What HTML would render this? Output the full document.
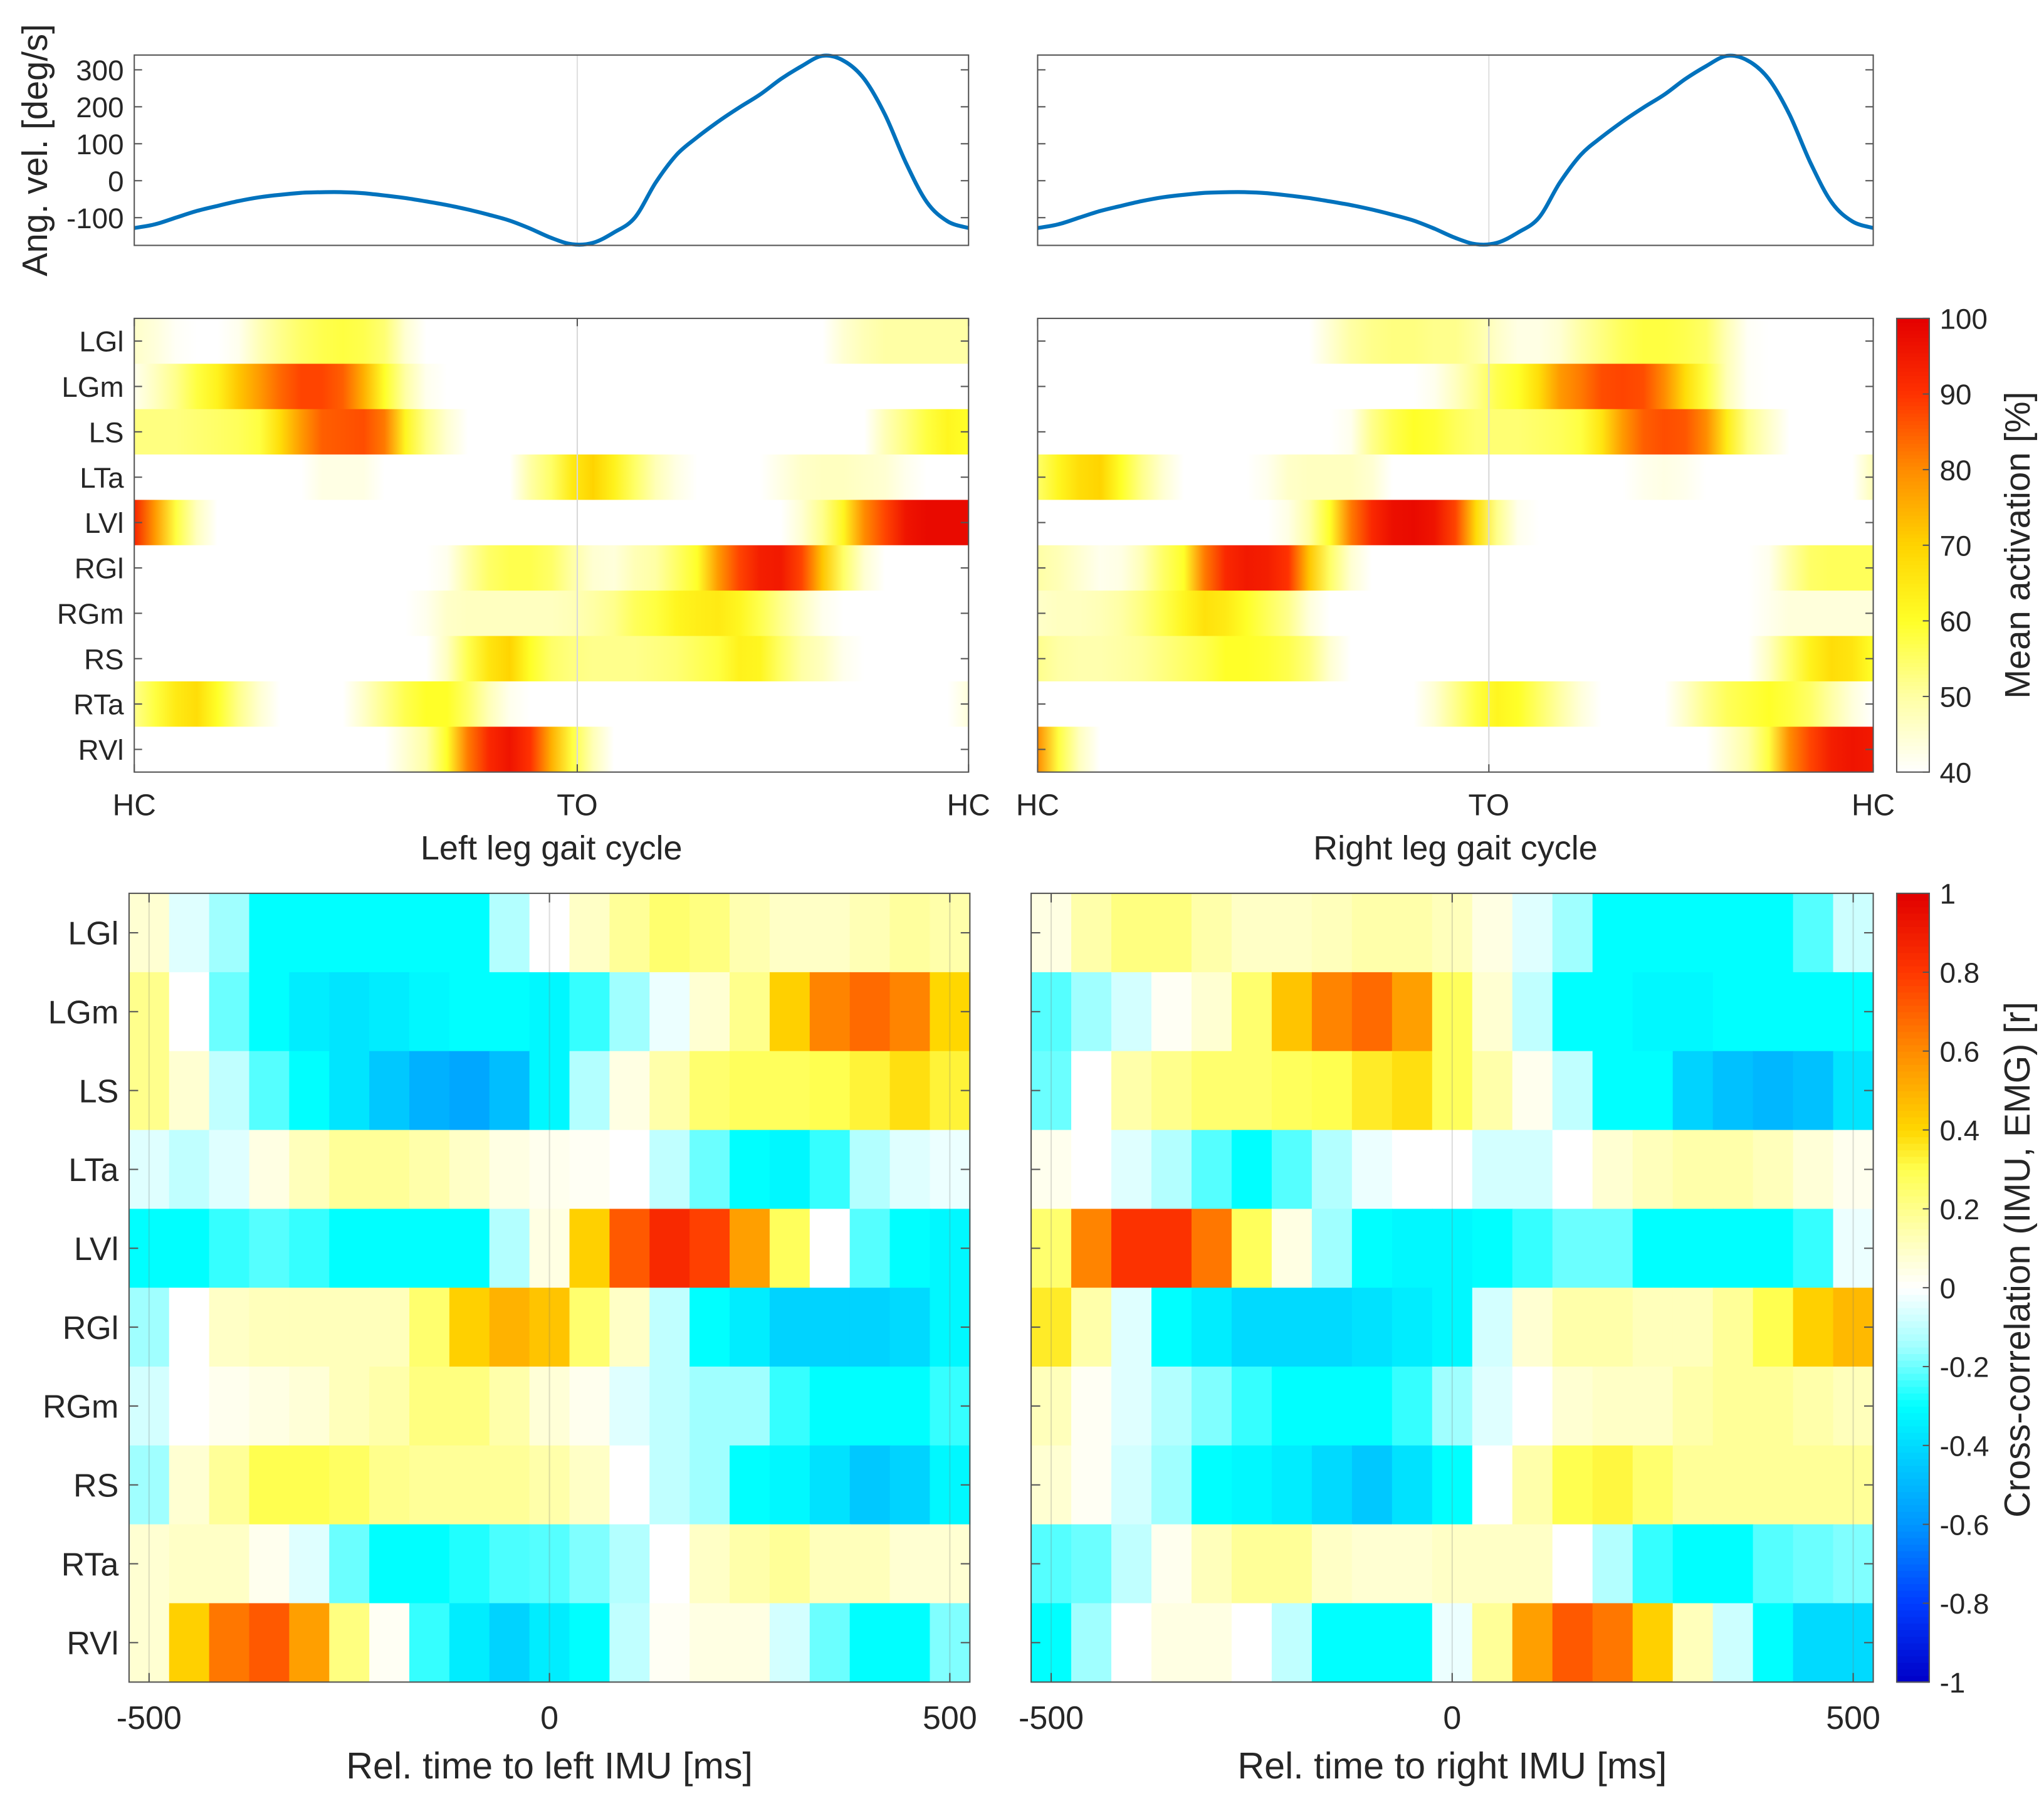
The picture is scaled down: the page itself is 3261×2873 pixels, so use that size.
<!DOCTYPE html>
<html><head><meta charset="utf-8"><style>
html,body{margin:0;padding:0;background:#fff}
svg{display:block}
text{font-family:"Liberation Sans",sans-serif;fill:#262626}
</style></head><body>
<svg id="fig" width="3261" height="2873" viewBox="0 0 1568 1381" xmlns="http://www.w3.org/2000/svg"><defs id="defs"></defs></svg>
<script>
// ---------- data ----------
const muscles = ["LGl","LGm","LS","LTa","LVl","RGl","RGm","RS","RTa","RVl"];
const gaitPct = [0,2.5,5,7.5,10,12.5,15,17.5,20,22.5,25,27.5,30,32.5,35,37.5,40,42.5,45,47.5,50,52.5,55,57.5,60,62.5,65,67.5,70,72.5,75,77.5,80,82.5,85,87.5,90,92.5,95,97.5,100];
const angVelLeft = [-128,-118,-100,-82,-68,-55,-45,-38,-33,-31,-31,-34,-40,-47,-56,-66,-78,-92,-108,-130,-155,-172,-168,-140,-100,-5,70,118,160,198,233,275,310,338,325,275,178,48,-58,-110,-128];
const angVelRight = [-128,-118,-100,-82,-68,-55,-45,-38,-33,-31,-31,-34,-40,-47,-56,-66,-78,-92,-108,-130,-155,-172,-168,-140,-100,-5,70,118,160,198,233,275,310,338,325,275,178,48,-58,-110,-128];
const angTicks = [300,200,100,0,-100];
const actTicks = [100,90,80,70,60,50,40];
const lagMs = [-500,-450,-400,-350,-300,-250,-200,-150,-100,-50,0,50,100,150,200,250,300,350,400,450,500];
const lagTicks = [-500,0,500];
const corrTicks = [1,0.8,0.6,0.4,0.2,0,-0.2,-0.4,-0.6,-0.8,-1];
const corrTickLabels = ["1","0.8","0.6","0.4","0.2","0","-0.2","-0.4","-0.6","-0.8","-1"];

const actLeft_LGl = [46,44,41,40,40,42,48,52,55,57,58,57,54,45,40,40,40,40,40,40,40,40,40,40,40,40,40,40,40,40,40,40,40,40,45,48,50,50,50,50,50];
const actLeft_LGm = [42,47,52,58,63,72,78,84,88,88,85,75,60,50,42,40,40,40,40,40,40,40,40,40,40,40,40,40,40,40,40,40,40,40,40,40,40,40,40,40,40];
const actLeft_LS  = [53,53,53,54,55,56,58,68,78,85,86,87,82,62,52,45,40,40,40,40,40,40,40,40,40,40,40,40,40,40,40,40,40,40,40,40,48,53,58,62,60];
const actLeft_LTa = [40,40,40,40,40,40,40,40,40,43,43,43,40,40,40,40,40,40,40,50,55,65,70,63,55,48,43,40,40,40,40,43,46,47,47,46,45,42,40,40,40];
const actLeft_LVl = [93,78,58,47,40,40,40,40,40,40,40,40,40,40,40,40,40,40,40,40,40,40,40,40,40,40,40,40,40,40,40,40,45,52,62,80,88,96,98,98,98];
const actLeft_RGl = [40,40,40,40,40,40,40,40,40,40,40,40,40,40,40,42,50,55,57,57,55,50,45,44,48,50,55,60,78,88,94,95,88,72,55,45,40,40,40,40,40];
const actLeft_RGm = [40,40,40,40,40,40,40,40,40,40,40,40,40,40,42,46,47,47,47,47,47,48,50,52,56,58,62,64,65,62,57,52,47,42,40,40,40,40,40,40,40];
const actLeft_RS  = [40,40,40,40,40,40,40,40,40,40,40,40,40,40,40,47,57,66,70,60,55,53,52,52,52,53,54,56,58,63,62,55,50,47,42,40,40,40,40,40,40];
const actLeft_RTa = [52,58,65,68,60,52,45,40,40,40,40,46,52,57,60,60,55,48,42,40,40,40,40,40,40,40,40,40,40,40,40,40,40,40,40,40,40,40,40,40,44];
const actLeft_RVl = [40,40,40,40,40,40,40,40,40,40,40,40,40,45,50,60,82,92,96,90,75,58,48,40,40,40,40,40,40,40,40,40,40,40,40,40,40,40,40,40,40];

const actRight_LGl = [40,40,40,40,40,40,40,40,40,40,40,40,40,40,45,50,52,53,53,52,52,50,46,43,43,45,50,53,56,58,58,57,55,48,41,40,40,40,40,40,40];
const actRight_LGm = [40,40,40,40,40,40,40,40,40,40,40,40,40,40,40,40,40,40,40,42,47,52,57,60,68,78,82,87,88,87,80,68,58,48,41,40,40,40,40,40,40];
const actRight_LS  = [40,40,40,40,40,40,40,40,40,40,40,40,40,40,40,42,52,57,60,59,56,54,54,54,55,56,58,66,78,85,87,86,80,64,52,46,40,40,40,40,40];
const actRight_LTa = [55,62,68,70,60,52,45,40,40,40,40,42,46,47,47,47,45,40,40,40,40,40,40,40,40,40,40,40,40,42,43,42,40,40,40,40,40,40,40,40,48];
const actRight_LVl = [40,40,40,40,40,40,40,40,40,40,40,40,43,50,60,82,92,97,98,96,88,68,52,42,40,40,40,40,40,40,40,40,40,40,40,40,40,40,40,40,40];
const actRight_RGl = [50,48,45,42,43,48,55,60,82,92,95,94,90,72,55,45,40,40,40,40,40,40,40,40,40,40,40,40,40,40,40,40,40,40,40,42,50,55,56,56,56];
const actRight_RGm = [46,47,47,48,50,53,57,62,67,65,60,56,52,44,40,40,40,40,40,40,40,40,40,40,40,40,40,40,40,40,40,40,40,40,40,42,44,44,44,44,44];
const actRight_RS  = [52,50,49,49,50,51,53,55,57,60,60,59,57,53,45,40,40,40,40,40,40,40,40,40,40,40,40,40,40,40,40,40,40,40,40,47,55,63,68,66,60];
const actRight_RTa = [40,40,40,40,40,40,40,40,40,40,40,40,40,40,40,40,40,40,40,45,52,58,62,60,55,50,44,40,40,40,40,46,52,56,58,60,58,55,50,44,40];
const actRight_RVl = [80,58,47,40,40,40,40,40,40,40,40,40,40,40,40,40,40,40,40,40,40,40,40,40,40,40,40,40,40,40,40,40,40,45,50,58,80,88,94,96,95];

const corrLeft_LGl = [0.08,-0.05,-0.15,-0.3,-0.3,-0.3,-0.3,-0.3,-0.3,-0.12,0,0.1,0.18,0.25,0.22,0.14,0.1,0.1,0.13,0.17,0.15];
const corrLeft_LGm = [0.2,0,-0.2,-0.3,-0.35,-0.37,-0.35,-0.32,-0.3,-0.3,-0.32,-0.25,-0.15,-0.03,0.08,0.2,0.42,0.62,0.68,0.62,0.4];
const corrLeft_LS  = [0.2,0.08,-0.1,-0.22,-0.3,-0.37,-0.45,-0.52,-0.55,-0.48,-0.32,-0.12,0.05,0.15,0.25,0.28,0.28,0.3,0.33,0.38,0.33];
const corrLeft_LTa = [-0.05,-0.1,-0.05,0.05,0.12,0.18,0.18,0.15,0.1,0.05,0.03,0.02,0,-0.1,-0.2,-0.3,-0.32,-0.25,-0.12,-0.05,-0.03];
const corrLeft_LVl = [-0.3,-0.3,-0.25,-0.22,-0.25,-0.3,-0.3,-0.3,-0.3,-0.12,0.05,0.42,0.72,0.85,0.78,0.55,0.28,0,-0.22,-0.3,-0.32];
const corrLeft_RGl = [-0.15,0,0.1,0.12,0.12,0.12,0.12,0.25,0.42,0.5,0.45,0.25,0.1,-0.1,-0.3,-0.35,-0.42,-0.42,-0.42,-0.4,-0.32];
const corrLeft_RGm = [-0.07,0,0.03,0.05,0.07,0.12,0.15,0.22,0.22,0.15,0.07,0.03,-0.05,-0.1,-0.15,-0.15,-0.25,-0.3,-0.3,-0.3,-0.25];
const corrLeft_RS  = [-0.15,0.08,0.18,0.3,0.3,0.27,0.2,0.18,0.18,0.18,0.15,0.1,0,-0.1,-0.15,-0.3,-0.32,-0.38,-0.45,-0.42,-0.32];
const corrLeft_RTa = [0.08,0.1,0.1,0.03,-0.05,-0.2,-0.3,-0.3,-0.27,-0.23,-0.22,-0.18,-0.12,0,0.1,0.15,0.18,0.12,0.12,0.08,0.08];
const corrLeft_RVl = [0.08,0.42,0.65,0.72,0.55,0.22,0.02,-0.25,-0.35,-0.42,-0.35,-0.3,-0.1,0.02,0.05,0.05,-0.07,-0.2,-0.3,-0.3,-0.18];

const corrRight_LGl = [0.05,0.15,0.22,0.22,0.15,0.1,0.1,0.12,0.15,0.15,0.12,0.05,-0.05,-0.15,-0.3,-0.3,-0.3,-0.3,-0.3,-0.22,-0.08];
const corrRight_LGm = [-0.22,-0.15,-0.07,0.02,0.08,0.25,0.45,0.62,0.68,0.55,0.28,0.08,-0.1,-0.3,-0.3,-0.32,-0.32,-0.3,-0.3,-0.3,-0.3];
const corrRight_LS  = [-0.2,0,0.15,0.2,0.25,0.25,0.28,0.3,0.35,0.38,0.28,0.15,0.03,-0.1,-0.3,-0.3,-0.42,-0.47,-0.5,-0.47,-0.37];
const corrRight_LTa = [0.03,0,-0.05,-0.12,-0.22,-0.3,-0.22,-0.12,-0.03,0,0,-0.07,-0.07,0,0.08,0.12,0.15,0.15,0.12,0.07,0.03];
const corrRight_LVl = [0.25,0.62,0.82,0.82,0.65,0.28,0.05,-0.15,-0.3,-0.32,-0.32,-0.3,-0.25,-0.2,-0.2,-0.3,-0.3,-0.3,-0.3,-0.25,-0.03];
const corrRight_RGl = [0.35,0.15,-0.05,-0.3,-0.35,-0.4,-0.4,-0.4,-0.38,-0.35,-0.32,-0.07,0.08,0.15,0.15,0.12,0.12,0.18,0.3,0.42,0.48];
const corrRight_RGm = [0.12,0.02,-0.05,-0.12,-0.18,-0.25,-0.3,-0.3,-0.3,-0.25,-0.15,-0.05,0,0.08,0.1,0.1,0.15,0.18,0.18,0.15,0.12];
const corrRight_RS  = [0.08,0.02,-0.07,-0.15,-0.3,-0.32,-0.35,-0.4,-0.45,-0.38,-0.3,0,0.15,0.3,0.32,0.25,0.18,0.18,0.18,0.18,0.18];
const corrRight_RTa = [-0.22,-0.2,-0.1,0.03,0.12,0.18,0.18,0.1,0.08,0.08,0.1,0.1,0.1,0,-0.12,-0.25,-0.3,-0.3,-0.22,-0.2,-0.18];
const corrRight_RVl = [-0.3,-0.15,0,0.05,0.05,0,-0.1,-0.3,-0.3,-0.3,-0.03,0.18,0.55,0.72,0.65,0.42,0.12,-0.08,-0.3,-0.4,-0.4];

const actLeft = [actLeft_LGl,actLeft_LGm,actLeft_LS,actLeft_LTa,actLeft_LVl,actLeft_RGl,actLeft_RGm,actLeft_RS,actLeft_RTa,actLeft_RVl];
const actRight = [actRight_LGl,actRight_LGm,actRight_LS,actRight_LTa,actRight_LVl,actRight_RGl,actRight_RGm,actRight_RS,actRight_RTa,actRight_RVl];
const corrLeft = [corrLeft_LGl,corrLeft_LGm,corrLeft_LS,corrLeft_LTa,corrLeft_LVl,corrLeft_RGl,corrLeft_RGm,corrLeft_RS,corrLeft_RTa,corrLeft_RVl];
const corrRight = [corrRight_LGl,corrRight_LGm,corrRight_LS,corrRight_LTa,corrRight_LVl,corrRight_RGl,corrRight_RGm,corrRight_RS,corrRight_RTa,corrRight_RVl];

// ---------- helpers ----------
const NS="http://www.w3.org/2000/svg";
const svg=document.getElementById('fig');
const defs=document.getElementById('defs');
function mk(tag,attrs,parent){const e=document.createElementNS(NS,tag);for(const k in attrs)e.setAttribute(k,attrs[k]);(parent||svg).appendChild(e);return e;}
function lerpStops(stops,v){
  if(v<=stops[0][0])return stops[0][1];
  for(let i=1;i<stops.length;i++){if(v<=stops[i][0]){const a=stops[i-1],b=stops[i];const t=(v-a[0])/(b[0]-a[0]);
    return a[1].map((c,j)=>Math.round(c+(b[1][j]-c)*t));}}
  return stops[stops.length-1][1];
}
const actStops=[[40,[255,255,255]],[50,[255,255,165]],[60,[255,255,40]],[70,[255,212,0]],[80,[255,140,0]],[90,[255,50,0]],[100,[228,0,0]]];
const corrStops=[[-1,[0,0,200]],[-0.8,[0,60,255]],[-0.6,[0,150,255]],[-0.45,[0,200,255]],[-0.3,[0,255,255]],[-0.15,[160,255,255]],[0,[255,255,255]],[0.15,[255,255,170]],[0.3,[255,255,80]],[0.4,[255,215,0]],[0.6,[255,140,0]],[0.8,[255,55,0]],[1,[225,0,0]]];
const rgb=c=>`rgb(${c[0]},${c[1]},${c[2]})`;
const AX='#555';
function smoothPath(pts){
  let d='M'+pts[0][0].toFixed(1)+','+pts[0][1].toFixed(1);
  for(let i=0;i<pts.length-1;i++){
    const p0=pts[Math.max(0,i-1)],p1=pts[i],p2=pts[i+1],p3=pts[Math.min(pts.length-1,i+2)];
    const c1=[p1[0]+(p2[0]-p0[0])/6,p1[1]+(p2[1]-p0[1])/6];
    const c2=[p2[0]-(p3[0]-p1[0])/6,p2[1]-(p3[1]-p1[1])/6];
    d+=`C${c1[0].toFixed(1)},${c1[1].toFixed(1)} ${c2[0].toFixed(1)},${c2[1].toFixed(1)} ${p2[0].toFixed(1)},${p2[1].toFixed(1)}`;
  }
  return d;
}

// ---------- layout ----------
const topY0=42, topY1=188;
const midY0=244, midY1=592;
const botY0=685, botY1=1290;
const panels=[
  {side:'left', x0:103,x1:743, bx0:99,bx1:744, to:53.1, ang:angVelLeft, act:actLeft, corr:corrLeft},
  {side:'right',x0:796,x1:1437,bx0:791,bx1:1437,to:54.0, ang:angVelRight, act:actRight, corr:corrRight}
];
const angMin=-175, angMax=340;

panels.forEach(p=>{
  const gx=v=>p.x0+(p.x1-p.x0)*v/100;
  const ay=v=>topY1-(v-angMin)/(angMax-angMin)*(topY1-topY0);
  // ---- angular velocity ----
  const g1=mk('g',{});  
  mk('line',{x1:gx(p.to),x2:gx(p.to),y1:topY0,y2:topY1,stroke:'#e0e0e0','stroke-width':1},g1);
  const pts=gaitPct.map((g,i)=>[gx(g),ay(p.ang[i])]);
  const ln=mk('path',{d:smoothPath(pts),fill:'none',stroke:'#0072bd','stroke-width':3,'stroke-linejoin':'round'},g1);
   
  mk('rect',{x:p.x0,y:topY0,width:p.x1-p.x0,height:topY1-topY0,fill:'none',stroke:AX,'stroke-width':1},g1);
  angTicks.forEach(t=>{const y=ay(t);
    mk('line',{x1:p.x0,x2:p.x0+6,y1:y,y2:y,stroke:AX},g1);mk('line',{x1:p.x1,x2:p.x1-6,y1:y,y2:y,stroke:AX},g1);
    if(p.side==='left'){const tx=mk('text',{x:p.x0-8,y:y+8,'text-anchor':'end','font-size':22},g1);tx.textContent=t;
      }
  });
  // ---- activation heatmap (gradient rows through data points) ----
  const g2=mk('g',{});  
  const rh=(midY1-midY0)/muscles.length;
  p.act.forEach((row,r)=>{
    const id=`grad-${p.side}-${r}`;
    const lg=mk('linearGradient',{id:id,x1:gx(0),x2:gx(100),y1:0,y2:0,gradientUnits:'userSpaceOnUse'},defs);
    row.forEach((v,i)=>{mk('stop',{offset:(gaitPct[i]/100).toFixed(4),'stop-color':rgb(lerpStops(actStops,v))},lg);});
    const c=mk('rect',{x:p.x0,y:midY0+r*rh,width:p.x1-p.x0,height:rh+0.4,fill:`url(#${id})`},g2);
    
    
  });
  mk('line',{x1:gx(p.to),x2:gx(p.to),y1:midY0,y2:midY1,stroke:'#d8d8d8','stroke-width':1},g2);
  mk('rect',{x:p.x0,y:midY0,width:p.x1-p.x0,height:midY1-midY0,fill:'none',stroke:AX},g2);
  muscles.forEach((m,r)=>{const y=midY0+(r+0.5)*rh;
    mk('line',{x1:p.x0,x2:p.x0+6,y1:y,y2:y,stroke:AX},g2);mk('line',{x1:p.x1,x2:p.x1-6,y1:y,y2:y,stroke:AX},g2);
    if(p.side==='left'){const t=mk('text',{x:p.x0-8,y:y+8,'text-anchor':'end','font-size':22},g2);t.textContent=m;
      }
  });
  [[0,'HC'],[p.to,'TO'],[100,'HC']].forEach(([v,l])=>{const x=gx(v);
    mk('line',{x1:x,x2:x,y1:midY1,y2:midY1-6,stroke:AX},g2);mk('line',{x1:x,x2:x,y1:midY0,y2:midY0+6,stroke:AX},g2);
    const t=mk('text',{x:x,y:625,'text-anchor':'middle','font-size':23},g2);t.textContent=l;
    });
  const gt=mk('text',{x:(p.x0+p.x1)/2,y:659,'text-anchor':'middle','font-size':26},g2);
  gt.textContent=p.side==='left'?'Left leg gait cycle':'Right leg gait cycle';
  
  // ---- correlation heatmap ----
  const g3=mk('g',{});  
  const lx=v=>p.bx0+(p.bx1-p.bx0)*(v+525)/1050;
  const bh=(botY1-botY0)/muscles.length;
  p.corr.forEach((row,r)=>{
    row.forEach((v,i)=>{
      const c=mk('rect',{x:lx(lagMs[i]-25),y:botY0+r*bh,width:lx(lagMs[i]+25)-lx(lagMs[i]-25)+0.5,height:bh+0.4,fill:rgb(lerpStops(corrStops,v))},g3);
      
      
    });
  });
  lagTicks.forEach(t=>{const x=lx(t);
    mk('line',{x1:x,x2:x,y1:botY0,y2:botY1,stroke:'rgba(120,120,120,0.25)','stroke-width':1},g3);
    mk('line',{x1:x,x2:x,y1:botY1,y2:botY1-7,stroke:AX},g3);mk('line',{x1:x,x2:x,y1:botY0,y2:botY0+7,stroke:AX},g3);
    const tx=mk('text',{x:x,y:1326,'text-anchor':'middle','font-size':25},g3);tx.textContent=t;
    });
  mk('rect',{x:p.bx0,y:botY0,width:p.bx1-p.bx0,height:botY1-botY0,fill:'none',stroke:AX},g3);
  muscles.forEach((m,r)=>{const y=botY0+(r+0.5)*bh;
    mk('line',{x1:p.bx0,x2:p.bx0+7,y1:y,y2:y,stroke:AX},g3);mk('line',{x1:p.bx1,x2:p.bx1-7,y1:y,y2:y,stroke:AX},g3);
    if(p.side==='left'){const t=mk('text',{x:p.bx0-8,y:y+9,'text-anchor':'end','font-size':25},g3);t.textContent=m;
      }
  });
  const bt=mk('text',{x:(p.bx0+p.bx1)/2,y:1364,'text-anchor':'middle','font-size':28.5},g3);
  bt.textContent=p.side==='left'?'Rel. time to left IMU [ms]':'Rel. time to right IMU [ms]';
  
});

// y-axis title for angular velocity
const yt=mk('text',{x:0,y:0,'text-anchor':'middle','font-size':27,transform:'translate(36,115) rotate(-90)'});
yt.textContent='Ang. vel. [deg/s]';



// ---------- colorbars ----------
function colorbar(y0,y1,vmin,vmax,stops,ticks,labels,title,name,tsize,tcy){
  const g=mk('g',{});
  const x0=1455,x1=1480,N=120;
  for(let i=0;i<N;i++){const v=vmin+(vmax-vmin)*(i+0.5)/N;const ya=y1-(y1-y0)*(i+1)/N;
    mk('rect',{x:x0,y:ya,width:x1-x0,height:(y1-y0)/N+0.5,fill:rgb(lerpStops(stops,v))},g);}
  mk('rect',{x:x0,y:y0,width:x1-x0,height:y1-y0,fill:'none',stroke:AX},g);
  ticks.forEach((t,i)=>{const y=y1-(t-vmin)/(vmax-vmin)*(y1-y0);
    mk('line',{x1:x1,x2:x1-5,y1:y,y2:y,stroke:AX},g);
    const tx=mk('text',{x:x1+8,y:y+8,'font-size':22},g);tx.textContent=labels[i];
    });
  const tt=mk('text',{x:0,y:0,'text-anchor':'middle','font-size':tsize,transform:`translate(1557,${tcy}) rotate(-90)`},g);
  tt.textContent=title;
  
}
colorbar(midY0,midY1,40,100,actStops,actTicks,actTicks.map(String),'Mean activation [%]','activation-colorbar',27,418);
colorbar(botY0,botY1,-1,1,corrStops,corrTicks,corrTickLabels,'Cross-correlation (IMU, EMG) [r]','correlation-colorbar',27.5,966);
</script>
</body></html>
